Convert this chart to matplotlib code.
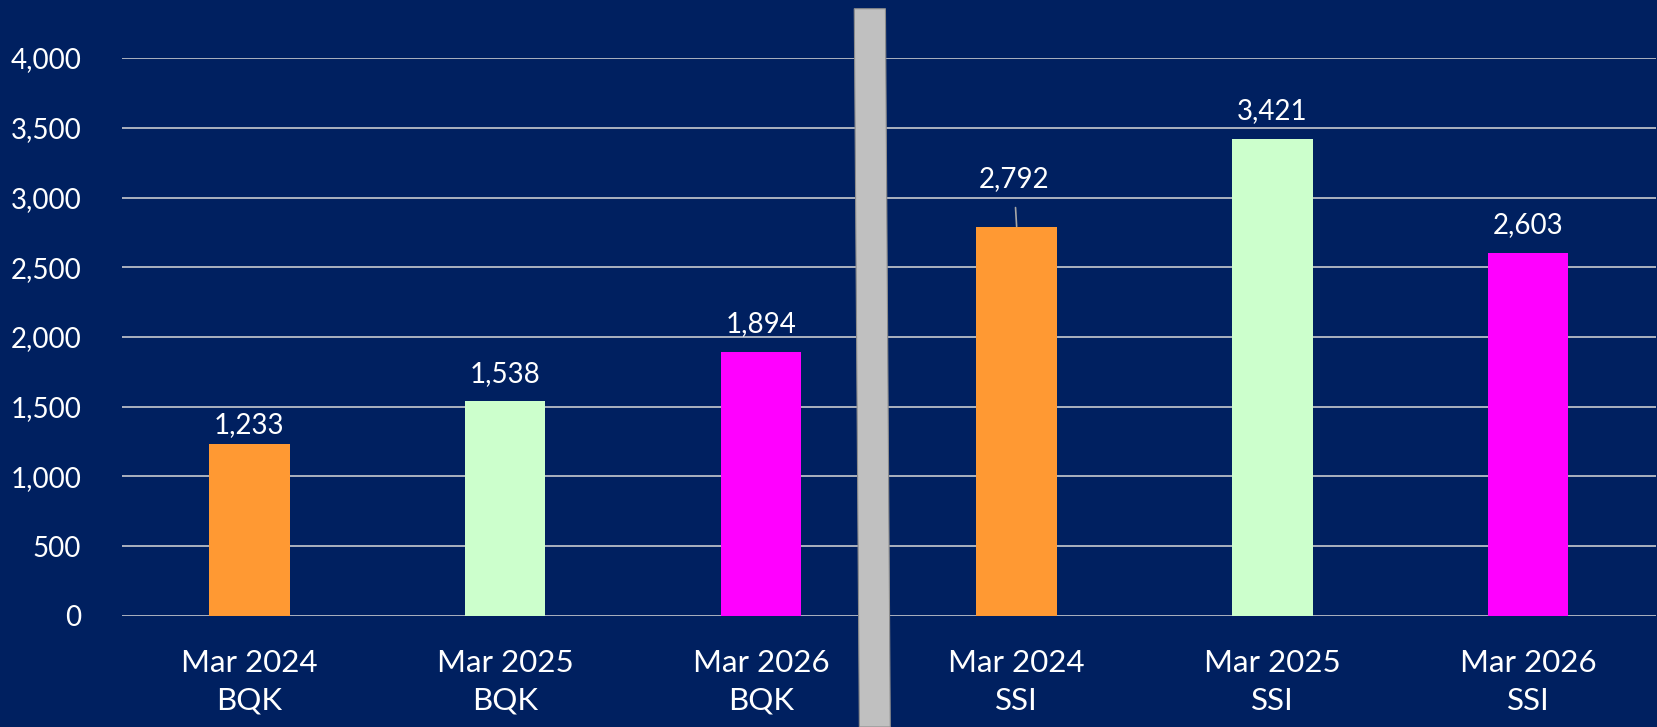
import matplotlib
matplotlib.use("Agg")
import matplotlib.pyplot as plt
from matplotlib.patches import Polygon
from matplotlib.ticker import FuncFormatter
import matplotlib.transforms as mtransforms

categories = ["Mar 2024\nBQK", "Mar 2025\nBQK", "Mar 2026\nBQK",
              "Mar 2024\nSSI", "Mar 2025\nSSI", "Mar 2026\nSSI"]
values = [1233, 1538, 1894, 2792, 3421, 2603]
colors = ["#FF9933", "#CCFFCC", "#FF00FF", "#FF9933", "#CCFFCC", "#FF00FF"]
yticks = [0, 500, 1000, 1500, 2000, 2500, 3000, 3500, 4000]

BG = "#002060"
plt.rcParams['font.family'] = ['Lato', 'DejaVu Sans']

fig = plt.figure(figsize=(16.58, 7.27), dpi=100, facecolor=BG)
ax = fig.add_axes([0.0733, 0.1527, 0.9255, 0.7675], facecolor=BG)

x = list(range(len(values)))
ax.bar(x, values, width=0.315, color=colors, zorder=3)

ax.set_xlim(-0.5, len(values) - 0.5)
ax.set_ylim(0, 4000)
ax.set_yticks(yticks)
ax.yaxis.set_major_formatter(FuncFormatter(lambda v, p: f"{int(v):,}"))
ax.grid(axis='y', color="#D9D9D9", linewidth=1.1, zorder=1)
ax.set_axisbelow(True)
for s in ax.spines.values():
    s.set_visible(False)
ax.tick_params(axis='y', length=0, pad=29, labelsize=20, labelcolor='white')
ax.set_xticks(x)
ax.set_xticklabels(categories, fontsize=22.5, color='white', linespacing=1.42)
ax.tick_params(axis='x', length=0, pad=24)

for i, v in enumerate(values):
    if i == 3:
        ax.annotate(f"{v:,}", xy=(i, v), xytext=(-2, 34), textcoords='offset points',
                    ha='center', va='center', fontsize=20, color='white',
                    arrowprops=dict(arrowstyle='-', color='#A6A6A6', lw=1.2,
                                    shrinkA=9, shrinkB=0))
    else:
        off = 14 if i == 0 else 20
        ax.annotate(f"{v:,}", xy=(i, v), xytext=(0, off), textcoords='offset points',
                    ha='center', va='center', fontsize=20, color='white')

# grey separator between the two groups
trans = mtransforms.blended_transform_factory(ax.transData, fig.transFigure)
sep = Polygon([(2.365, 0.988), (2.487, 0.988), (2.506, 0.0), (2.385, 0.0)],
              closed=True, transform=trans, facecolor="#C0C0C0",
              edgecolor="#8C8C8C", linewidth=0.8, clip_on=False, zorder=5)
ax.add_patch(sep)

fig.savefig("out.png", dpi=100, facecolor=BG)
